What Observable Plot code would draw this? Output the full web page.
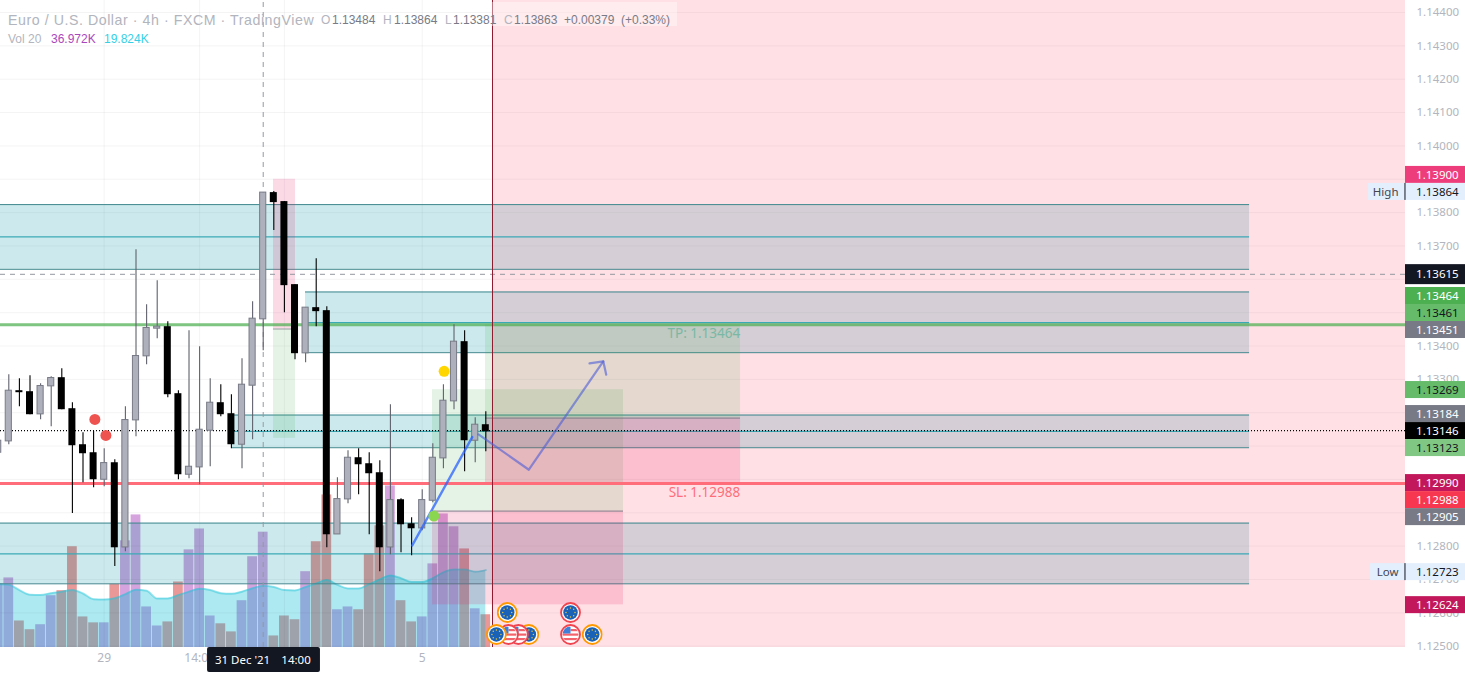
<!DOCTYPE html>
<html><head><meta charset="utf-8">
<script src="https://cdn.jsdelivr.net/npm/d3@7"></script>
<script src="https://cdn.jsdelivr.net/npm/@observablehq/plot@0.6"></script>
<style>
html,body{margin:0;padding:0;background:#fff;overflow:hidden}
#wrap{position:relative;width:1465px;height:673px;font-family:"Liberation Sans",sans-serif}
#wrap svg{position:absolute;left:0;top:0}
.lg{position:absolute;white-space:nowrap;line-height:16px}
</style></head><body><div id="wrap"></div>
<script>
const bars=[-1,0,1,2,3,4,5,6,7,8,9,10,11,12,13,14,15,16,17,18,19,20,21,22,23,24,25,26,27,28,29,30,31,32,33,34,35,36,37,38,39,40,41,42,43,44,45];
const opens=[1.13080,1.13114,1.13266,1.13263,1.13195,1.13279,1.13305,1.13212,1.13104,1.13080,1.12999,1.13050,1.12796,1.13177,1.13369,1.13452,1.13458,1.13257,1.13014,1.13036,1.13146,1.13230,1.13197,1.13104,1.13281,1.13480,1.13860,1.13833,1.13584,1.13378,1.13515,1.13506,1.12835,1.12940,1.13065,1.13047,1.13020,1.12796,1.12939,1.12867,1.12853,1.12936,1.13063,1.13234,1.13413,1.13116,1.13164];
const highs=[1.13116,1.13314,1.13302,1.13311,1.13287,1.13308,1.13332,1.13230,1.13140,1.13144,1.13092,1.13059,1.13218,1.13689,1.13524,1.13596,1.13473,1.13266,1.13446,1.13398,1.13302,1.13284,1.13254,1.13362,1.13533,1.13860,1.13863,1.13833,1.13584,1.13515,1.13662,1.13518,1.13005,1.13086,1.13092,1.13080,1.13056,1.13224,1.12942,1.12885,1.12969,1.13107,1.13284,1.13464,1.13446,1.13185,1.13203];
const lows=[1.13080,1.13104,1.13218,1.13194,1.13179,1.13158,1.13209,1.12898,1.12990,1.12975,1.12978,1.12739,1.12783,1.13128,1.13344,1.13422,1.13245,1.12999,1.13002,1.12984,1.13038,1.13188,1.13092,1.13032,1.13119,1.13386,1.13746,1.13500,1.13359,1.13350,1.13458,1.12795,1.12835,1.12927,1.12954,1.12834,1.12723,1.12774,1.12780,1.12771,1.12846,1.12930,1.13032,1.13209,1.13023,1.13050,1.13083];
const closes=[1.13116,1.13266,1.13260,1.13194,1.13280,1.13304,1.13209,1.13101,1.13077,1.12999,1.13049,1.12795,1.13178,1.13370,1.13454,1.13458,1.13254,1.13014,1.13038,1.13149,1.13230,1.13194,1.13104,1.13284,1.13482,1.13860,1.13830,1.13581,1.13377,1.13515,1.13503,1.12834,1.12941,1.13065,1.13044,1.13017,1.12795,1.12938,1.12864,1.12852,1.12938,1.13065,1.13236,1.13413,1.13116,1.13164,1.13143];
const volumes=[20.3,22.3,8.5,5.7,7.3,16.6,18.2,32.3,9.8,7.9,7.9,20.3,34.2,42.5,13.0,6.9,8.2,21.0,31.3,38.0,10.1,7.6,5.0,15.0,29.1,36.972,3.7,10.1,8.9,24.3,33.9,48.9,12.1,13.0,12.1,30.0,39.0,51.8,15.0,8.2,9.8,26.8,42.8,38.7,31.6,12.4,10.5];
const volumeMA=[20.3,20.1,18.4,16.9,16.8,17.4,17.9,18.4,17.3,15.5,15.4,15.8,17.1,18.5,18.2,15.7,15.7,16.8,17.9,18.8,18.4,17.4,17.2,17.9,19.0,19.824,19.4,18.4,18.3,19.4,20.5,21.6,20.1,18.9,18.9,20.3,21.8,23.1,22.2,21.0,21.0,22.2,24.1,25.0,25.0,24.3,24.8];

const gridPrices=[1.144,1.143,1.142,1.141,1.14,1.139,1.138,1.137,1.136,1.135,1.134,1.133,1.132,1.131,1.13,1.129,1.128,1.127,1.126,1.125];
const priceTicks=[1.144,1.143,1.142,1.141,1.14,1.138,1.137,1.134,1.133,1.128,1.127,1.126,1.125];
const timeTickBars=[9,18,39];
const timeTickLabels=["29","14:00","5"];
const gridBars=[9,18,26,39];

const xMin=-0.783, xAxis=131.76, xEnd=137.42, yMax=1.14436, yMin=1.12496;
const nowBar=45.63, zoneEnd=117.05;

const bandStart=[xMin,27.99,21.1,xMin];
const bandTop=[1.13824,1.13562,1.13193,1.12869];
const bandMid=[1.13727,1.13470,1.13144,1.12777];
const bandBottom=[1.13630,1.13380,1.13095,1.12687];

const greenStart=[24.97,39.97,44.97];
const greenEnd=[27.05,57.99,69.03];
const greenTop=[1.13451,1.13269,1.13464];
const greenBottom=[1.13123,1.12905,1.13184];
const redStart=[24.97,39.97,44.97];
const redEnd=[27.05,57.99,69.03];
const redTop=[1.13900,1.12905,1.13184];
const redBottom=[1.13451,1.12624,1.12988];

const tpPrice=1.13464, slPrice=1.12988, lastPrice=1.13146, dashPrice=1.13615, crossBar=24.0;
const trendBars=[38.06,43.72], trendPrices=[1.12802,1.13127];
const arrowBars=[44.31,49.06,56.08], arrowPrices=[1.13135,1.13029,1.13354];
const headBars=[54.78,56.08,56.36], headPrices=[1.13348,1.13354,1.13314];
const redDotBars=[8.12,9.16], redDotPrices=[1.13180,1.13132];
const yellowDot=[41.07,1.13324], greenDot=[40.1,1.12890];

const tagLabels=["1.13900","1.13864","1.13615","1.13464","1.13461","1.13451","1.13269","1.13184","1.13146","1.13123","1.12990","1.12988","1.12905","1.12723","1.12624"];
const tagRows=[1.13913,1.13862,1.13614,1.13550,1.13499,1.13448,1.13268,1.13196,1.13145,1.13094,1.12989,1.12938,1.12887,1.12722,1.12623];
const tagFills=["#ee3d7b","#e3effd","#131722","#4caf50","#66bb6a","#787b86","#66bb6a","#787b86","#000000","#81c784","#c2185b","#f7374f","#787b86","#e3effd","#c2185b"];
const tagInks=["#fff","#131722","#fff","#fff","#131722","#fff","#131722","#fff","#fff","#131722","#fff","#fff","#fff","#131722","#fff"];

const candles=bars.map((b,i)=>({b,o:opens[i],h:highs[i],l:lows[i],c:closes[i],v:volumes[i],m:volumeMA[i]}));
const ups=candles.filter(d=>d.c>=d.o), downs=candles.filter(d=>d.c<d.o);
const bands=bandTop.map((t,i)=>({s:bandStart[i],t,m:bandMid[i],b:bandBottom[i]}));
const greens=greenTop.map((t,i)=>({x1:greenStart[i],x2:greenEnd[i],t,b:greenBottom[i]}));
const reds=redTop.map((t,i)=>({x1:redStart[i],x2:redEnd[i],t,b:redBottom[i]}));
const tags=tagLabels.map((t,i)=>({t,r:tagRows[i],f:tagFills[i],k:tagInks[i]}));
const pad=8.5/33350, padBlack=10/33350;

function euIcon(ring){
  let s=`<svg xmlns="http://www.w3.org/2000/svg" width="42" height="42" viewBox="0 0 42 42"><circle cx="21" cy="21" r="19" fill="#fff" stroke="${ring}" stroke-width="3.6"/><circle cx="21" cy="21" r="14.5" fill="#1a62b8"/>`;
  for(let a=0;a<8;a++){const t=a*Math.PI/4;s+=`<circle cx="${21+9*Math.cos(t)}" cy="${21+9*Math.sin(t)}" r="1.5" fill="#e8c53a"/>`;}
  return "data:image/svg+xml,"+encodeURIComponent(s+"</svg>");
}
function usIcon(){
  let s=`<svg xmlns="http://www.w3.org/2000/svg" width="42" height="42" viewBox="0 0 42 42"><defs><clipPath id="c"><circle cx="21" cy="21" r="16"/></clipPath></defs><circle cx="21" cy="21" r="19" fill="#fff" stroke="#f0444f" stroke-width="3.6"/><g clip-path="url(#c)"><rect x="0" y="19" width="42" height="4.4" fill="#f2636b"/><rect x="0" y="28" width="42" height="4.4" fill="#f2636b"/><rect x="21" y="10" width="21" height="4.4" fill="#f2636b"/><rect x="4" y="5" width="17" height="14" fill="#3d7fd9"/></g></svg>`;
  return "data:image/svg+xml,"+encodeURIComponent(s);
}

const volumePlot=Plot.plot({
  width:1465,height:673,marginTop:0,marginBottom:26,marginLeft:0,marginRight:60,
  style:{background:"#fff"},
  x:{domain:[xMin,xAxis],axis:null},
  y:{domain:[0,207.4],axis:null},
  marks:[
    Plot.rectY(ups,{x1:d=>d.b-.46,x2:d=>d.b+.46,y:"v",fill:"rgba(171,71,188,.5)",clip:true}),
    Plot.rectY(downs,{x1:d=>d.b-.46,x2:d=>d.b+.46,y:"v",fill:"rgba(211,47,47,.5)",clip:true}),
    Plot.areaY(candles,{x:"b",y:"m",fill:"rgba(0,188,212,.32)",curve:"monotone-x",clip:true}),
    Plot.lineY(candles,{x:"b",y:"m",stroke:"rgba(38,198,218,.45)",strokeWidth:2,curve:"monotone-x",clip:true})
  ]
});

const pricePlot=Plot.plot({
  width:1465,height:673,marginTop:0,marginBottom:26,marginLeft:0,marginRight:60,
  style:{background:"transparent"},
  x:{domain:[xMin,xAxis]},
  y:{domain:[yMin,yMax]},
  marks:[
    Plot.ruleY(gridPrices,{y:d=>d,x1:xMin,x2:xAxis,stroke:"rgba(42,46,57,.05)",strokeWidth:1}),
    Plot.ruleX(gridBars,{x:d=>d,y1:yMin,y2:yMax,stroke:"rgba(42,46,57,.05)",strokeWidth:1}),
    Plot.rect(bands,{x1:"s",x2:zoneEnd,y1:"t",y2:"b",fill:"rgba(0,151,167,.2)"}),
    Plot.rect([0],{x1:nowBar,x2:xAxis,y1:yMin,y2:yMax,fill:"rgba(255,85,110,.18)"}),
    Plot.ruleY(bands,{y:"t",x1:"s",x2:zoneEnd,stroke:"#3f878e",strokeWidth:1}),
    Plot.ruleY(bands,{y:"m",x1:"s",x2:zoneEnd,stroke:"#3aa9b6",strokeWidth:1.2}),
    Plot.ruleY(bands,{y:"b",x1:"s",x2:zoneEnd,stroke:"#3f878e",strokeWidth:1}),
    Plot.rect(greens,{x1:"x1",x2:"x2",y1:"t",y2:"b",fill:"rgba(76,175,80,.15)"}),
    Plot.rect(reds,{x1:"x1",x2:"x2",y1:"t",y2:"b",fill:"rgba(233,30,99,.17)"}),
    Plot.ruleY(reds.slice(0,1).map(d=>d.b),{y:d=>d,x1:24.97,x2:27.05,stroke:"rgba(120,123,134,.7)"}),
    Plot.ruleY(reds.slice(1).map(d=>d.t),{y:d=>d,x1:(d,i)=>greenStart[i+1],x2:(d,i)=>greenEnd[i+1],stroke:"rgba(120,123,134,.75)",strokeWidth:1.2}),
    Plot.ruleY([tpPrice],{x1:xMin,x2:xAxis,stroke:"rgba(76,175,80,.72)",strokeWidth:3}),
    Plot.ruleY([slPrice],{x1:xMin,x2:xAxis,stroke:"#ff6d7a",strokeWidth:3}),
    Plot.ruleY([dashPrice],{x1:xMin,x2:xAxis,stroke:"#9598a1",strokeWidth:1,strokeDasharray:"5 5"}),
    Plot.ruleX([crossBar],{y1:yMin,y2:yMax,stroke:"#9598a1",strokeWidth:1,strokeDasharray:"5 5"}),
    Plot.ruleX([nowBar],{y1:yMin,y2:yMax,stroke:"#8f1a2e",strokeWidth:1}),
    Plot.ruleY([lastPrice],{x1:xMin,x2:xAxis,stroke:"#000",strokeWidth:1.2,strokeDasharray:"1 2"}),
    Plot.ruleX(ups,{x:"b",y1:"l",y2:"h",stroke:"#5f616c",strokeWidth:1.1}),
    Plot.ruleX(downs,{x:"b",y1:"l",y2:"h",stroke:"#000",strokeWidth:1.1}),
    Plot.rect(ups,{x1:d=>d.b-.29,x2:d=>d.b+.29,y1:"o",y2:"c",fill:"#aeb0bb",stroke:"#787b86",strokeWidth:1}),
    Plot.rect(downs,{x1:d=>d.b-.33,x2:d=>d.b+.33,y1:"o",y2:"c",fill:"#000"}),
    Plot.line(trendBars.map((b,i)=>[b,trendPrices[i]]),{x:"0",y:"1",stroke:"rgba(41,98,255,.75)",strokeWidth:2.4}),
    Plot.line(arrowBars.map((b,i)=>[b,arrowPrices[i]]),{x:"0",y:"1",stroke:"rgba(80,95,215,.62)",strokeWidth:2.2}),
    Plot.line(headBars.map((b,i)=>[b,headPrices[i]]),{x:"0",y:"1",stroke:"rgba(80,95,215,.62)",strokeWidth:2.2}),
    Plot.dot(redDotBars.map((b,i)=>[b,redDotPrices[i]]),{x:"0",y:"1",r:5.5,fill:"#ef5350"}),
    Plot.dot([yellowDot],{x:"0",y:"1",r:5.5,fill:"#ffd600"}),
    Plot.dot([greenDot],{x:"0",y:"1",r:5.5,fill:"#8bd650"}),
    Plot.text(["TP: 1.13464"],{x:69,y:1.13437,text:d=>d,textAnchor:"end",fill:"#7ab8a4",fontSize:13.5,style:{letterSpacing:".3px"}}),
    Plot.text(["SL: 1.12988"],{x:69,y:1.12961,text:d=>d,textAnchor:"end",fill:"#ff6d7a",fontSize:13.5,style:{letterSpacing:".3px"}}),
    Plot.image([0],{x:49.06,y:1.12535,src:euIcon("#ff9800"),width:21,height:21}),
    Plot.image([0],{x:48.08,y:1.12535,src:usIcon(),width:21,height:21}),
    Plot.image([0],{x:47.14,y:1.12535,src:usIcon(),width:21,height:21}),
    Plot.image([0],{x:46.0,y:1.12535,src:euIcon("#ff9800"),width:21,height:21}),
    Plot.image([0],{x:47.02,y:1.12601,src:euIcon("#ff9800"),width:21,height:21}),
    Plot.image([0],{x:52.99,y:1.12601,src:euIcon("#f0444f"),width:21,height:21}),
    Plot.image([0],{x:52.99,y:1.12535,src:usIcon(),width:21,height:21}),
    Plot.image([0],{x:55.04,y:1.12535,src:euIcon("#ff9800"),width:21,height:21}),
    Plot.axisY({anchor:"right",ticks:priceTicks,tickFormat:d=>d.toFixed(5),tickSize:0,tickPadding:11,label:null,fill:"#b2b5be",fontSize:11.5}),
    Plot.axisX({ticks:timeTickBars,tickFormat:d=>timeTickLabels[timeTickBars.indexOf(d)],tickSize:0,tickPadding:6,label:null,fill:"#b2b5be",fontSize:12}),
    Plot.rect(tags,{x1:xAxis,x2:xEnd,y1:d=>d.r-(d.t==="1.13615"?padBlack:pad),y2:d=>d.r+(d.t==="1.13615"?padBlack:pad),fill:"f"}),
    Plot.text(tags,{x:xAxis+1,y:"r",text:"t",fill:"k",textAnchor:"start",fontSize:11.5}),
    Plot.rect(["High","Low"],{x1:(d,i)=>i?128.47:128.28,x2:xAxis,y1:(d,i)=>(i?1.12722:1.13862)-pad,y2:(d,i)=>(i?1.12722:1.13862)+pad,fill:"#e3effd"}),
    Plot.text(["High","Low"],{x:131.1,y:(d,i)=>i?1.12722:1.13862,text:d=>d,textAnchor:"end",fill:"#434651",fontSize:11.5}),
    Plot.ruleX([xAxis-.05],{y1:1.13862-pad,y2:1.13862+pad,stroke:"#131722"}),
    Plot.ruleX([xAxis-.05],{y1:1.12722-pad,y2:1.12722+pad,stroke:"#131722"}),
    Plot.rect([0],{x1:18.75,x2:29.4,y1:1.12421,y2:yMin,fill:"#131722",r:2}),
    Plot.text(["31 Dec '21"],{x:22.05,y:1.12457,text:d=>d,fill:"#fff",fontSize:11.5,textAnchor:"middle"}),
    Plot.text(["14:00"],{x:27.1,y:1.12457,text:d=>d,fill:"#fff",fontSize:11.5,textAnchor:"middle"})
  ]
});

const wrap=document.getElementById("wrap");
wrap.append(volumePlot,pricePlot);
const legend=[
 ["Euro / U.S. Dollar · 4h · FXCM · TradingView",8,12,14.2,"#b2b5be",".55px"],
 ["O",321,12,12,"#b2b5be","0"],["1.13484",332,12,12,"#787b86","0"],
 ["H",383,12,12,"#b2b5be","0"],["1.13864",394,12,12,"#787b86","0"],
 ["L",445,12,12,"#b2b5be","0"],["1.13381",453,12,12,"#787b86","0"],
 ["C",504,12,12,"#b2b5be","0"],["1.13863",514,12,12,"#787b86","0"],
 ["+0.00379",564,12,12,"#787b86","0"],["(+0.33%)",621,12,12,"#787b86","0"],
 ["Vol 20",8,31,12,"#b2b5be","0"],["36.972K",51,31,12,"#ab47bc","0"],["19.824K",104,31,12,"#35d0e6","0"]
];
const box=document.createElement("div");
box.style.cssText="position:absolute;left:492px;top:2px;width:185px;height:24px;background:rgba(255,255,255,.4)";
wrap.append(box);
for(const [t,x,y,f,c,ls] of legend){
  const s=document.createElement("span");
  s.className="lg";s.textContent=t;
  s.style.cssText=`left:${x}px;top:${y}px;font-size:${f}px;color:${c};letter-spacing:${ls}`;
  wrap.append(s);
}
</script></body></html>
